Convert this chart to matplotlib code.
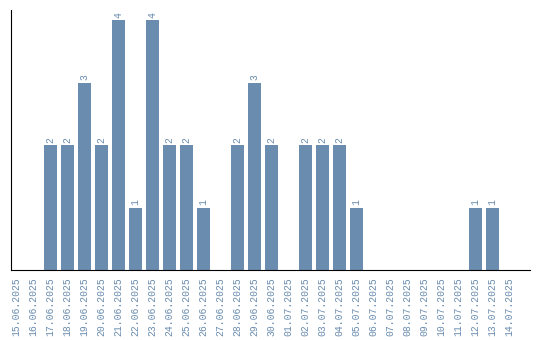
import matplotlib
matplotlib.use("Agg")
import matplotlib.pyplot as plt

dates = ["15.06.2025", "16.06.2025", "17.06.2025", "18.06.2025", "19.06.2025",
         "20.06.2025", "21.06.2025", "22.06.2025", "23.06.2025", "24.06.2025",
         "25.06.2025", "26.06.2025", "27.06.2025", "28.06.2025", "29.06.2025",
         "30.06.2025", "01.07.2025", "02.07.2025", "03.07.2025", "04.07.2025",
         "05.07.2025", "06.07.2025", "07.07.2025", "08.07.2025", "09.07.2025",
         "10.07.2025", "11.07.2025", "12.07.2025", "13.07.2025", "14.07.2025"]
counts = [0, 0, 2, 2, 3, 2, 4, 1, 4, 2, 2, 1, 0, 2, 3, 2, 0, 2, 2, 2, 1,
          0, 0, 0, 0, 0, 0, 1, 1, 0]

bar_color = "#6a8caf"
mono = "Liberation Mono"

fig = plt.figure(figsize=(5.4, 3.4), dpi=100)
ax = fig.add_axes([11 / 540, 70 / 340, 519 / 540, 260 / 340])

x = list(range(len(dates)))
ax.bar(x, counts, width=0.76, color=bar_color)

for xi, v in zip(x, counts):
    if v > 0:
        ax.text(xi, v + 0.04, str(v), rotation=90, ha="center", va="bottom",
                color=bar_color, fontsize=7, family=mono)

ax.set_xlim(-0.32, 30.2)
ax.set_ylim(0, 4.16)
ax.set_xticks(x)
ax.set_xticklabels(dates, rotation=90, color=bar_color, fontsize=7,
                   family=mono)
ax.tick_params(axis="x", length=0, pad=5)
ax.set_yticks([])
ax.spines["top"].set_visible(False)
ax.spines["right"].set_visible(False)

fig.savefig("out.png", dpi=100)
